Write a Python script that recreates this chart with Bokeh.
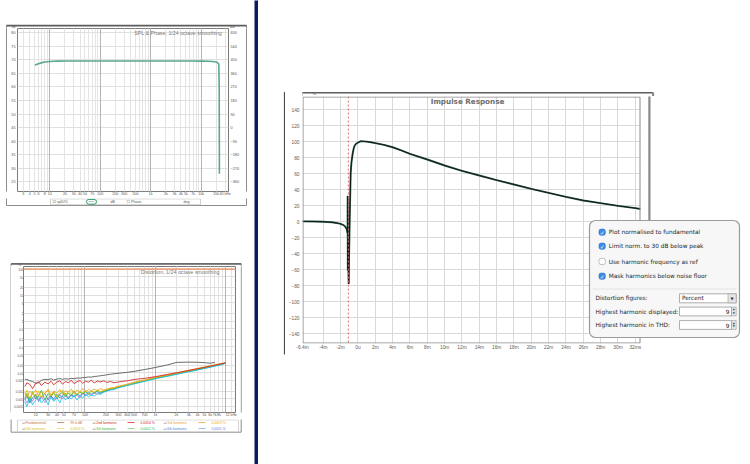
from bokeh.plotting import figure
from bokeh.layouts import row, column
from bokeh.models import Range1d, LinearAxis, FixedTicker, Grid, BoxAnnotation, Label, Span
from bokeh.embed import file_html
from bokeh.resources import INLINE

NAVY = "#0b1c5e"
FONT = "Liberation Sans"
SYM = "DejaVu Sans"

# ---------------- SPL & Phase (top left) ----------------
spl_freq = [5.1, 5.6, 6.2, 7.0, 8.0, 10, 12, 15, 20, 30, 50, 100, 300, 1000, 3000, 7000,
            10000, 14000, 17000, 20000, 21500, 22500, 22900, 23000, 23100]
spl_db = [68.1, 68.4, 68.7, 69.0, 69.2, 69.4, 69.5, 69.55, 69.6, 69.6, 69.6, 69.6, 69.6, 69.6,
          69.6, 69.6, 69.55, 69.5, 69.4, 69.2, 68.9, 68.4, 60.0, 45.0, 28.0]
spl_x_ticks = [3, 4, 5, 6, 8, 10, 20, 30, 40, 50, 70, 100, 200, 300, 500, 1000, 2000, 3000,
               4000, 5000, 7000, 10000, 20000, 30000]
spl_x_labels = ["3", "4", "5", "6", "8", "10", "20", "30", "40", "50", "70", "100", "200", "300",
                "500", "1k", "2k", "3k", "4k", "5k", "7k", "10k", "20k", "30 kHz"]
spl_db_ticks = [25, 30, 35, 40, 45, 50, 55, 60, 65, 70, 75, 80]
phase_ticks = [-360, -270, -180, -90, 0, 90, 180, 270, 360, 450, 540, 630]
spl_legend = ["spl070", "dB", "Phase", "deg"]

# ---------------- Distortion (bottom left) ----------------
dist_freq = [14, 15, 16.5, 18, 20, 22, 24, 27, 30, 33, 36, 40, 44, 48, 53, 58, 64, 70, 77, 85,
             93, 102, 112, 123, 135, 150, 165, 185, 205, 230, 260, 300, 400, 500, 700, 1000,
             1500, 2000, 3000, 4000, 5000, 6000, 7000, 8500, 10000]
thd_pct = [0.0058, 0.0056, 0.0050, 0.0047, 0.0040, 0.0042, 0.0052, 0.0057, 0.0055, 0.0060,
           0.0053, 0.0058, 0.0061, 0.0057, 0.0060, 0.0058, 0.0062, 0.0060, 0.0064, 0.0063,
           0.0066, 0.0067, 0.0070, 0.0069, 0.0073, 0.0075, 0.0078, 0.0081, 0.0085, 0.0089,
           0.0093, 0.0097, 0.0106, 0.0115, 0.0135, 0.0162, 0.0205, 0.0255, 0.0262, 0.0258,
           0.0250, 0.0236, 0.0255]
h2_pct = [0.0030, 0.0042, 0.0036, 0.0025, 0.0040, 0.0046, 0.0033, 0.0044, 0.0038, 0.0048,
          0.0035, 0.0045, 0.0050, 0.0037, 0.0047, 0.0042, 0.0052, 0.0039, 0.0046, 0.0051,
          0.0040, 0.0048, 0.0044, 0.0053, 0.0041, 0.0049, 0.0045, 0.0050, 0.0043, 0.0047,
          0.0042, 0.0045, 0.0050, 0.0056, 0.0062, 0.0072, 0.0088, 0.0102, 0.0125, 0.0146,
          0.0165, 0.0183, 0.0200, 0.0223, 0.0246]
h3_pct = [0.0018, 0.0012, 0.0020, 0.0015, 0.0022, 0.0013, 0.0019, 0.0016, 0.0024, 0.0014,
          0.0020, 0.0017, 0.0023, 0.0015, 0.0021, 0.0018, 0.0024, 0.0016, 0.0022, 0.0019,
          0.0025, 0.0018, 0.0023, 0.0020, 0.0024, 0.0021, 0.0025, 0.0022, 0.0024, 0.0026,
          0.0028, 0.0031, 0.0037, 0.0044, 0.0054, 0.0069, 0.0085, 0.0101, 0.0127, 0.0149,
          0.0170, 0.0188, 0.0206, 0.0230, 0.0247]
h4_pct = [0.0014, 0.0022, 0.0010, 0.0018, 0.0012, 0.0020, 0.0011, 0.0017, 0.0021, 0.0013,
          0.0019, 0.0012, 0.0018, 0.0022, 0.0014, 0.0020, 0.0016, 0.0021, 0.0015, 0.0019,
          0.0017, 0.0022, 0.0016, 0.0020, 0.0018, 0.0022, 0.0019, 0.0021, 0.0023, 0.0025,
          0.0026, 0.0030, 0.0035, 0.0042, 0.0051, 0.0066, 0.0081, 0.0097, 0.0121, 0.0144,
          0.0162, 0.0182, 0.0197, 0.0221, 0.0244]
h5_pct = [0.0011, 0.0016, 0.0008, 0.0019, 0.0010, 0.0014, 0.0021, 0.0009, 0.0016, 0.0012,
          0.0018, 0.0010, 0.0015, 0.0019, 0.0012, 0.0017, 0.0013, 0.0020, 0.0014, 0.0018,
          0.0016, 0.0019, 0.0015, 0.0020, 0.0017, 0.0021, 0.0018, 0.0020, 0.0022, 0.0024,
          0.0025, 0.0029, 0.0034, 0.0041, 0.0050, 0.0064, 0.0080, 0.0094, 0.0118, 0.0139,
          0.0158, 0.0176, 0.0193, 0.0217, 0.0243]
h6_pct = [0.0009, 0.0013, 0.0007, 0.0011, 0.0015, 0.0008, 0.0012, 0.0016, 0.0009, 0.0013,
          0.0010, 0.0015, 0.0011, 0.0014, 0.0016, 0.0010, 0.0014, 0.0012, 0.0016, 0.0013,
          0.0017, 0.0014, 0.0018, 0.0015, 0.0017, 0.0019, 0.0016, 0.0019, 0.0021, 0.0023,
          0.0024, 0.0028, 0.0034, 0.0039, 0.0049, 0.0062, 0.0077, 0.0091, 0.0115, 0.0134,
          0.0153, 0.0170, 0.0187, 0.0210, 0.0241]
h7_pct = [0.0008, 0.0005, 0.0011, 0.0006, 0.0009, 0.0013, 0.0007, 0.0010, 0.0006, 0.0012,
          0.0008, 0.0011, 0.0007, 0.0013, 0.0009, 0.0012, 0.0010, 0.0014, 0.0009, 0.0013,
          0.0011, 0.0015, 0.0012, 0.0014, 0.0013, 0.0016, 0.0015, 0.0018, 0.0020, 0.0022,
          0.0023, 0.0027, 0.0033, 0.0038, 0.0047, 0.0060, 0.0075, 0.0088, 0.0111, 0.0130,
          0.0148, 0.0165, 0.0181, 0.0203, 0.0239]
h8_pct = [0.0010, 0.0007, 0.0012, 0.0008, 0.0014, 0.0009, 0.0013, 0.0007, 0.0011, 0.0014,
          0.0009, 0.0012, 0.0015, 0.0010, 0.0013, 0.0011, 0.0015, 0.0012, 0.0014, 0.0011,
          0.0016, 0.0013, 0.0015, 0.0014, 0.0017, 0.0015, 0.0018, 0.0019, 0.0021, 0.0024,
          0.0025, 0.0028, 0.0034, 0.0040, 0.0049, 0.0063, 0.0078, 0.0092, 0.0116, 0.0136,
          0.0155, 0.0172, 0.0189, 0.0212, 0.0240]
fund_freq = [13.4, 13800]
fund_pct = [100, 100]
dist_x_ticks = [20, 30, 40, 50, 70, 100, 200, 300, 400, 500, 700, 1000, 2000, 3000, 4000, 5000,
                6000, 7000, 8000, 12000]
dist_x_labels = ["20", "30", "40", "50", "70", "100", "200", "300", "400", "500", "700", "1k",
                 "2k", "3k", "4k", "5k", "6k", "7k", "8k", "12 kHz"]
dist_y_ticks = [0.0005, 0.001, 0.002, 0.005, 0.01, 0.02, 0.05, 0.1, 0.2, 0.5, 1, 2, 5, 10, 20, 50, 100]
dist_y_labels = ["0.0005", "0.001", "0.002", "0.005", "0.01", "0.02", "0.05", "0.1", "0.2", "0.5",
                 "1", "2", "5", "10", "20", "50", "100"]
dist_names = ["Fundamental", "2nd harmonic", "3rd harmonic", "4th harmonic", "5th harmonic", "6th harmonic"]
dist_values = ["99.0 dB", "0.0054 %", "0.0019 %", "0.0016 %", "0.0012 %", "0.0011 %"]
C_FUND, C_THD = "#e9a47f", "#5a5a5a"
C_H = ["#d42020", "#f0a020", "#d8c400", "#2db82d", "#3f7fe0", "#1ec8e0", "#c080e0"]
dist_colors = ["#c07040"] + C_H[:5]

# ---------------- Impulse response (right) ----------------
ir_t = [-6.4, -5.0, -4.0, -3.0, -2.5, -2.0, -1.8, -1.6, -1.45, -1.3, -1.24, -1.2, -1.19, -1.17,
        -1.13, -1.09, -1.07, -1.02, -0.95, -0.9, -0.84, -0.75, -0.61, -0.5, -0.38, -0.2, -0.03,
        0.15, 0.31, 0.66, 1.0, 1.5, 2.0, 3.0, 4.0, 5.0, 6.0, 8.0, 10.0, 12.0, 14.0, 16.0, 18.0,
        20.0, 22.0, 24.0, 26.0, 28.0, 30.0, 32.0, 32.6]
ir_v = [0.2, 0.0, -0.3, -1.0, -1.8, -3.0, -3.8, -5.0, -6.8, -9.5, -12.5, -15.0, 32.0, -61.0,
        -25.0, -70.0, -78.0, -40.0, 5.0, 30.0, 61.0, 74.0, 85.0, 91.0, 95.0, 97.3, 98.4, 99.6,
        100.3, 100.1, 99.8, 99.0, 98.0, 95.8, 92.8, 88.8, 84.6, 77.5, 70.0, 63.3, 57.5, 51.7,
        46.3, 40.8, 35.8, 30.8, 26.3, 22.9, 19.6, 16.7, 15.7]
ref_time = -1.11
ir_x_ticks = [-6.4, -4, -2, 0, 2, 4, 6, 8, 10, 12, 14, 16, 18, 20, 22, 24, 26, 28, 30, 32]
ir_x_labels = ["-6.4m", "-4m", "-2m", "0u", "2m", "4m", "6m", "8m", "10m", "12m", "14m", "16m",
               "18m", "20m", "22m", "24m", "26m", "28m", "30m", "32ms"]
ir_y_ticks = [-140, -120, -100, -80, -60, -40, -20, 0, 20, 40, 60, 80, 100, 120, 140]

panel_options = ["Plot normalised to fundamental", "Limit norm. to 30 dB below peak",
                 "Use harmonic frequency as ref", "Mask harmonics below noise floor"]
panel_checked = [True, True, False, True]
panel_fields = ["Distortion figures:", "Highest harmonic displayed:", "Highest harmonic in THD:"]
panel_field_values = ["Percent", "9", "9"]


# ---------------- helpers ----------------
def style_axis(ax, size="4px", color="#555555", standoff=2):
    ax.major_label_text_font_size = size
    ax.major_label_text_color = color
    ax.major_label_text_font = FONT
    ax.major_label_standoff = standoff
    ax.axis_line_color = None
    ax.major_tick_line_color = None
    ax.minor_tick_line_color = None
    ax.major_tick_in = 0
    ax.major_tick_out = 0
    ax.minor_tick_in = 0
    ax.minor_tick_out = 0


def box(figs, l, r, t, b, fill=None, line=None, lw=1.0, radius=0):
    for p in figs:
        p.add_layout(BoxAnnotation(left=l, right=r, top=t, bottom=b, x_range_name="px", y_range_name="py",
                                   fill_color=fill if fill else "white", fill_alpha=1.0 if fill else 0.0,
                                   line_color=line if line else "white", line_alpha=1.0 if line else 0.0,
                                   line_width=lw, border_radius=int(radius)))


def txt(p, x, y, s, size=4.0, color="#555555", align="left", bold=False, font=FONT):
    p.add_layout(Label(x=x, y=y, x_range_name="px", y_range_name="py", text=s, text_font=font,
                       text_font_size=f"{size}px", text_color=color, text_align=align,
                       text_baseline="middle", text_font_style="bold" if bold else "normal"))


def chart_fig(w, h, l, r, t, b, fx, fy, **kw):
    p = figure(width=w, height=h, output_backend="svg", toolbar_location=None,
               min_border_left=l, min_border_right=r, min_border_top=t, min_border_bottom=b,
               background_fill_color="white", border_fill_color="white", **kw)
    p.extra_x_ranges = {"px": Range1d(*fx)}
    p.extra_y_ranges = {"py": Range1d(*fy)}
    return p


def deco(x0, x1, y0, y1, bg="white"):
    d = figure(width=x1 - x0, height=y1 - y0, output_backend="svg", toolbar_location=None, min_border=0,
               x_range=Range1d(x0, x1), y_range=Range1d(y1, y0), background_fill_color=bg,
               border_fill_color=bg, outline_line_color=None)
    d.extra_x_ranges = {"px": Range1d(x0, x1)}
    d.extra_y_ranges = {"py": Range1d(y1, y0)}
    d.axis.visible = False
    d.grid.visible = False
    return d


# ---------------- SPL panel ----------------
p1 = chart_fig(238, 170, 10, 17, 0, 5, (17, 228), (193, 28), x_axis_type="log",
               x_range=Range1d(2.3, 35000), y_range=Range1d(21.4, 81.6))
p1.outline_line_color = "#7a7a7a"
p1.extra_y_ranges["phase"] = Range1d(-424.8, 658.8)
p1.xaxis.ticker = FixedTicker(ticks=spl_x_ticks,
                              minor_ticks=[m * 10 ** e for e in range(0, 5) for m in range(1, 10)])
p1.xaxis.major_label_overrides = dict(zip(spl_x_ticks, spl_x_labels))
p1.yaxis.ticker = FixedTicker(ticks=spl_db_ticks)
rax = LinearAxis(y_range_name="phase", ticker=FixedTicker(ticks=phase_ticks))
p1.add_layout(rax, "right")
for ax in p1.axis:
    style_axis(ax, "3.8px", standoff=2)
p1.xaxis.major_label_text_font_size = "3.6px"
p1.xaxis.major_label_standoff = 0
p1.xgrid.grid_line_color = "#e4e4e4"
p1.xgrid.minor_grid_line_color = "#e4e4e4"
p1.ygrid.grid_line_color = "#e0e0e0"
p1.add_layout(Grid(dimension=0, ticker=FixedTicker(ticks=[10, 100, 1000, 10000]), grid_line_color="#b4b4b4"))
p1.line(spl_freq, spl_db, line_color="#5aa88a", line_width=1.6)

tl_top = deco(0, 254, 0, 28)
tl_left = deco(0, 7, 28, 198)
tl_right = deco(245, 254, 28, 198)
tl_bot = deco(0, 254, 198, 231)
TL = [tl_top, tl_left, p1, tl_right, tl_bot]
box(TL, 6, 246, 25, 205, line="#8c8c8c", lw=1)
box(TL, 6, 246, 24.3, 26, fill="#5c5c5c")
txt(p1, 122.5, 32.6, "SPL & Phase, 1/24 octave smoothing", 5.3, "#7a7a7a", "center")
txt(tl_top, 15, 26.3, spl_legend[1], 3.0, "#555555", "right")
txt(tl_top, 229.5, 26.3, spl_legend[3], 3.0, "#555555")
box(TL, 50, 200, 198.4, 204.2, fill="white", line="#c4c4c4", lw=0.8)
txt(tl_bot, 52, 201.3, "\u2611", 4, "#666666", font=SYM)
txt(tl_bot, 56.5, 201.3, spl_legend[0], 3.6, "#555555")
box(TL, 86, 96, 198.9, 203.7, line="#2e9a6a", lw=1, radius=3)
box(TL, 88, 94, 201.0, 201.6, fill="#5aa88a")
txt(tl_bot, 110, 201.3, spl_legend[1], 3.6, "#555555")
txt(tl_bot, 126, 201.3, "\u2610", 4, "#666666", font=SYM)
txt(tl_bot, 130.5, 201.3, spl_legend[2], 3.6, "#555555")
txt(tl_bot, 183, 201.3, spl_legend[3], 3.6, "#555555")

# ---------------- Distortion panel ----------------
p2 = chart_fig(229, 153, 10, 5, 0, 5, (21, 235), (414, 266), x_axis_type="log", y_axis_type="log",
               x_range=Range1d(13.4, 13800), y_range=Range1d(0.0003, 126))
p2.outline_line_color = "#7a7a7a"
p2.xaxis.ticker = FixedTicker(ticks=dist_x_ticks,
                              minor_ticks=[m * 10 ** e for e in range(1, 5) for m in range(1, 10)])
p2.xaxis.major_label_overrides = dict(zip(dist_x_ticks, dist_x_labels))
p2.yaxis.ticker = FixedTicker(ticks=dist_y_ticks)
p2.yaxis.major_label_overrides = dict(zip(dist_y_ticks, dist_y_labels))
for ax in p2.axis:
    style_axis(ax, "3.6px", standoff=0)
p2.yaxis.major_label_text_font_size = "3.1px"
p2.xgrid.grid_line_color = "#e2e2e2"
p2.xgrid.minor_grid_line_color = "#e2e2e2"
p2.ygrid.grid_line_color = "#dedede"
p2.add_layout(Grid(dimension=0, ticker=FixedTicker(ticks=[100, 1000, 10000]), grid_line_color="#b4b4b4"))
p2.line(fund_freq, fund_pct, line_color=C_FUND, line_width=1.6)
p2.line(dist_freq[:len(thd_pct)], thd_pct, line_color=C_THD, line_width=0.9)
for series, col in zip([h8_pct, h6_pct, h5_pct, h4_pct, h3_pct, h7_pct, h2_pct],
                       [C_H[6], C_H[4], C_H[3], C_H[2], C_H[1], C_H[5], C_H[0]]):
    p2.line(dist_freq, series, line_color=col, line_width=0.85)

bl_top = deco(0, 254, 234, 266)
bl_left = deco(0, 11, 266, 419)
bl_right = deco(240, 254, 266, 419)
bl_bot = deco(0, 254, 419, 464)
BL = [bl_top, bl_left, p2, bl_right, bl_bot]
box(BL, 10.6, 240.7, 263.3, 431.7, line="#8c8c8c", lw=1)
box(BL, 10.6, 240.7, 262.6, 264.2, fill="#6a6a6a")
txt(p2, 125, 270.4, "Distortion, 1/24 octave smoothing", 5.3, "#7a7a7a", "center")
txt(bl_top, 20.5, 264.2, "%", 3.1, "#555555", "right")
box(BL, 17, 238, 419.4, 431.2, fill="white", line="#c8c8c8", lw=0.8)
group_x = [21.7, 92, 163]
for i, (name, col, val) in enumerate(zip(dist_names, dist_colors, dist_values)):
    gx = group_x[i % 3]
    gy = 422.2 if i < 3 else 428.0
    txt(bl_bot, gx, gy, "\u2611", 3.6, "#777777", font=SYM)
    txt(bl_bot, gx + 3.8, gy, name, 3.4, col)
    box([bl_bot], gx + 35, gx + 42, gy - 0.35, gy + 0.35, fill=col)
    txt(bl_bot, gx + 48, gy, val, 3.4, col)

# ---------------- Impulse response panel ----------------
# the frame runs on to the page edge so that the options panel can overlap it; the data ends at 32.6 ms
p3 = chart_fig(465, 368, 17, 0, 0, 121, (302, 750), (343, 96),
               x_range=Range1d(-6.4, 45.29), y_range=Range1d(-152.5, 156.25))
p3.outline_line_color = None
p3.xaxis.ticker = FixedTicker(ticks=ir_x_ticks)
p3.xaxis.major_label_overrides = dict(zip(ir_x_ticks, ir_x_labels))
p3.yaxis.ticker = FixedTicker(ticks=ir_y_ticks)
for ax in p3.axis:
    style_axis(ax, "4.8px", color="#5a5a5a", standoff=3)
p3.xaxis.major_label_standoff = 1
p3.xgrid.grid_line_color = "#d9d9d9"
p3.ygrid.grid_line_color = "#d9d9d9"
p3.add_layout(Span(location=ref_time, dimension="height", line_color="#e07070", line_dash="2 2", line_width=1))
p3.line(ir_t, ir_v, line_color="#2f5f4a", line_width=1.9)
p3.line(ir_t, ir_v, line_color="#111111", line_width=0.9)

r_left = deco(258, 285, 0, 464)
r_top = deco(285, 750, 0, 96)
R = [r_left, r_top, p3]
box([p3], 640, 750, 90, 350, fill="white")
box([p3], 302.5, 639.5, 96.5, 342.5, line="#8a8a8a", lw=1)
box(R, 283.4, 285, 92, 354, fill="#4a4a4a")
box(R, 283.4, 649, 91.4, 93, fill="#5e5e5e")
box(R, 647.8, 650, 92, 222, fill="#8a8a8a")
txt(p3, 467, 100.8, "Impulse Response", 7.2, "#6e6e6e", "center", bold=True, font=SYM)
txt(r_top, 299, 93.3, "%", 4.2, "#555555", "right")

# options panel
PF = SYM
PS = 5.8
box([p3], 589, 739, 220, 337, fill="#f7f7f7", line="#9c9c9c", lw=1.2, radius=6)
for y, checked, label in zip([231.7, 245.7, 261.0, 275.7], panel_checked, panel_options):
    if checked:
        box([p3], 598.5, 604.8, y - 3.1, y + 3.1, fill="#3d8de6", line="#2c6cc0", lw=0.6, radius=2)
        txt(p3, 601.65, y + 0.3, "\u2713", 5.4, "white", "center", bold=True, font=SYM)
    else:
        box([p3], 598.5, 604.8, y - 3.1, y + 3.1, fill="white", line="#9a9a9a", lw=0.6, radius=2)
    txt(p3, 608.3, y, label, PS, "#1e1e1e", font=PF)
box([p3], 592, 736, 288.2, 288.8, fill="#d0d0d0")
for y, label, v, i in zip([297.8, 311.0, 324.5], panel_fields, panel_field_values, range(3)):
    txt(p3, 595, y, label, PS, "#1e1e1e", font=PF)
    if i == 0:
        box([p3], 679, 735.7, y - 4.5, y + 4.5, fill="white", line="#9a9a9a", lw=0.8)
        txt(p3, 681.5, y + 0.1, v, PS, "#1e1e1e", font=PF)
        box([p3], 727.5, 735.7, y - 4.5, y + 4.5, fill="#e6e6e6", line="#9a9a9a", lw=0.6)
        txt(p3, 731.6, y + 0.4, "\u25bc", 4, "#333333", "center", font=SYM)
    else:
        box([p3], 679, 731, y - 4.4, y + 4.4, fill="white", line="#9a9a9a", lw=0.8)
        txt(p3, 729, y + 0.1, v, PS, "#1e1e1e", "right", font=PF)
        box([p3], 731, 735.7, y - 4.4, y + 4.4, fill="#e6e6e6", line="#9a9a9a", lw=0.6)
        txt(p3, 733.35, y - 1.9, "\u25b2", 2.6, "#333333", "center", font=SYM)
        txt(p3, 733.35, y + 2.0, "\u25bc", 2.6, "#333333", "center", font=SYM)

# ---------------- navy separators & layout ----------------
hbar = deco(0, 254, 231, 234, bg=NAVY)
vbar = deco(254, 258, 0, 464, bg=NAVY)

top_left = column(tl_top, row(tl_left, p1, tl_right), tl_bot)
bottom_left = column(bl_top, row(bl_left, p2, bl_right), bl_bot)
right = row(r_left, column(r_top, p3))
layout = row(column(top_left, hbar, bottom_left), vbar, right)
open("out.html", "w").write(file_html(layout, INLINE))
